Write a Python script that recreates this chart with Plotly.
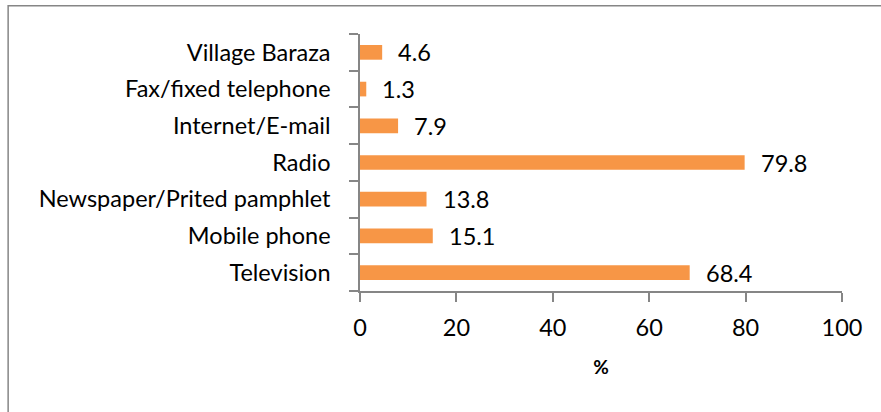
import plotly.graph_objects as go

categories = ['Television', 'Mobile phone', 'Newspaper/Prited pamphlet', 'Radio',
              'Internet/E-mail', 'Fax/fixed telephone', 'Village Baraza']
values = [68.4, 15.1, 13.8, 79.8, 7.9, 1.3, 4.6]
x_ticks = [0, 20, 40, 60, 80, 100]

font_family = 'Lato, Open Sans, sans-serif'
axis_gray = '#868686'

fig = go.Figure()
fig.add_trace(go.Bar(
    y=categories,
    x=values,
    orientation='h',
    marker=dict(color='#F79646', line=dict(width=0)),
    hoverinfo='x+y',
))

# data labels sit a little right of each bar end
for cat, val in zip(categories, values):
    fig.add_annotation(x=val, y=cat, text=f'{val:.1f}', showarrow=False,
                       xanchor='left', xshift=14, yshift=0,
                       font=dict(size=23.5, color='black', family=font_family))

# outer frame (partly cut off at right and bottom)
fig.add_shape(type='rect', xref='paper', yref='paper',
              x0=-0.730, x1=1.3, y0=-0.6, y1=1.11,
              line=dict(color=axis_gray, width=1.5), layer='below')

fig.update_xaxes(range=[0, 100], tickvals=x_ticks, ticks='outside', ticklen=9,
                 tickcolor=axis_gray, tickwidth=1.5, showline=True,
                 linecolor=axis_gray, linewidth=1.5, showgrid=False,
                 zeroline=False, ticklabelstandoff=6,
                 tickfont=dict(size=23.5, color='black'),
                 title=dict(text='<b>%</b>', font=dict(size=19, color='black'),
                            standoff=21))
fig.update_yaxes(tickson='boundaries', ticks='outside', ticklen=9,
                 tickcolor=axis_gray, tickwidth=1.5, showline=True,
                 linecolor=axis_gray, linewidth=1.5, showgrid=False,
                 ticklabelstandoff=23,
                 tickfont=dict(size=23.5, color='black'))

fig.update_layout(
    width=881, height=412,
    margin=dict(l=360, r=39, t=34, b=121),
    plot_bgcolor='white', paper_bgcolor='white',
    bargap=0.6,
    showlegend=False,
    font=dict(family=font_family, color='black'),
)

fig.write_html('out.html', config={'displayModeBar': False},
               post_script="document.body.style.margin='0';")
